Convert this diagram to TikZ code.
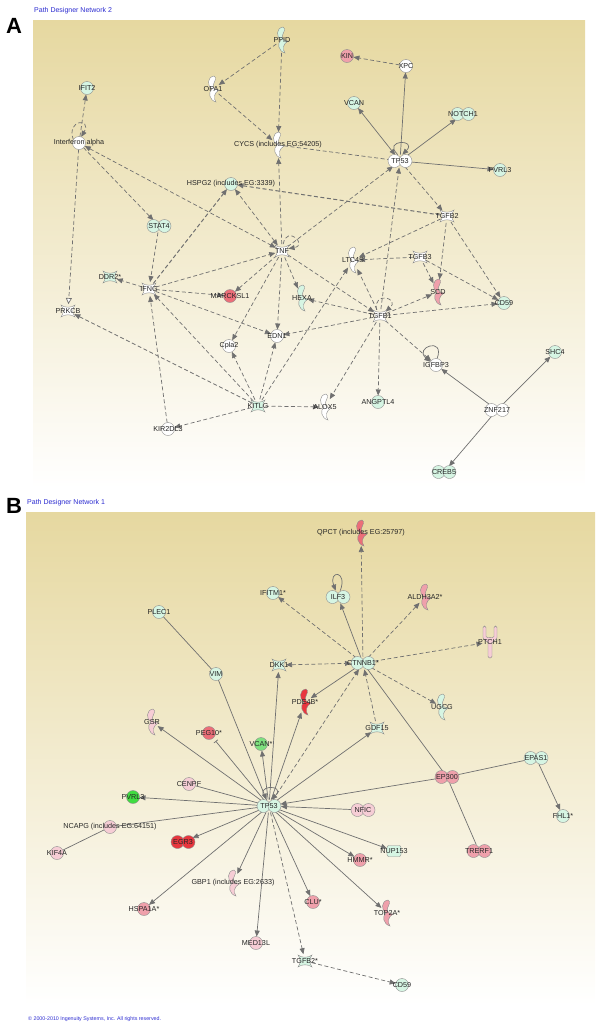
\documentclass[tikz,border=0pt]{standalone}
\usepackage{fontspec}
\setmainfont{Liberation Sans}
\usetikzlibrary{arrows.meta,shapes.geometric}

\definecolor{mint}{HTML}{D6F5E3}
\definecolor{pinkl}{HTML}{F6CDD5}
\definecolor{pinkm}{HTML}{EFA0AB}
\definecolor{redm}{HTML}{EC6E78}
\definecolor{redd}{HTML}{E8363E}
\definecolor{greenm}{HTML}{7EE07E}
\definecolor{greenb}{HTML}{40DC40}
\definecolor{edgec}{HTML}{707070}
\definecolor{tanc}{HTML}{E6D8A0}
\definecolor{titleblue}{HTML}{2B2BD0}

\pgfdeclarelayer{bg}
\pgfdeclarelayer{edges}
\pgfsetlayers{bg,edges,main}

\tikzset{
  glyph/.style={draw=black!45, line width=0.4pt},
  gene/.style={inner sep=0pt, outer sep=0pt, draw=none},
  lbl/.style={font=\fontsize{7.2}{8}\selectfont, inner sep=0pt, text=black!85},
  other box/.style={circle, minimum size=13pt},
  treg box/.style={ellipse, minimum width=24pt, minimum height=13pt},
  enzyme box/.style={ellipse, minimum width=12pt, minimum height=26pt},
  growth box/.style={circle, minimum size=14pt},
  ymem box/.style={ellipse, minimum width=15pt, minimum height=32pt},
  transp box/.style={rectangle, minimum width=14pt, minimum height=11pt},
  pics/other/.style={code={\draw[glyph, fill=#1] (0,0) circle[radius=6.5pt];}},
  pics/treg/.style={code={
    \draw[glyph, fill=#1] (-5.5,0) circle[radius=6.5pt];
    \draw[glyph, fill=#1] (5.5,0) circle[radius=6.5pt];}},
  pics/enzyme/.style={code={
    \draw[glyph, fill=#1] (1,-13) .. controls (-6,-12) and (-6,-3) .. (-1,0)
      .. controls (-5,3) and (-4,11) .. (3,13)
      .. controls (0,9) and (1,4) .. (6,1)
      .. controls (1,1) and (-1,-3) .. (1,-6)
      .. controls (2,-9) and (4,-11) .. (1,-13) -- cycle;}},
  pics/growth/.style={code={
    \draw[glyph, fill=#1] (-7,-6) .. controls (-3,-3) and (3,-3) .. (7,-6)
      .. controls (4,-2) and (4,2) .. (7,6)
      .. controls (3,3) and (-3,3) .. (-7,6)
      .. controls (-4,2) and (-4,-2) .. (-7,-6) -- cycle;}},
  pics/ymem/.style={code={
    \draw[glyph, fill=#1, rounded corners=1.5pt] (-7,-16) -- (-7,-6)
      .. controls (-7,-2) and (-2,-1) .. (-2,3) -- (-2,16) -- (2,16) -- (2,3)
      .. controls (2,-1) and (7,-2) .. (7,-6) -- (7,-16) -- (4,-16) -- (4,-7)
      .. controls (4,-4) and (-4,-4) .. (-4,-7) -- (-4,-16) -- cycle;}},
  pics/transp/.style={code={
    \draw[glyph, fill=#1, rounded corners=2pt] (-7,-5.5) rectangle (7,5.5);}},
  act/.style={draw=edgec, line width=0.7pt, ->},
  actd/.style={act, dash pattern=on 4pt off 2.5pt},
  rel/.style={draw=edgec, line width=0.7pt},
  reld/.style={rel, dash pattern=on 4pt off 2.5pt},
  inh/.style={rel, -{Bar[width=5pt]}, shorten >=4pt},
  >={Triangle[length=6pt,width=5pt]},
  panel/.style={font=\fontsize{22}{24}\selectfont\bfseries, inner sep=0pt},
  title/.style={font=\fontsize{7}{8}\selectfont, text=titleblue, inner sep=0pt, anchor=west}
}

% name, position, glyph, fill, text
\newcommand{\gene}[5]{%
  \pic at (#2) {#3=#4};
  \node[gene, #3 box, label={[lbl]center:{#5}}] (#1) at (#2) {};}

\begin{document}
\begin{tikzpicture}[x=1pt, y=-1pt]
\useasboundingbox (0,0) rectangle (602,1029);

% backgrounds
\begin{pgfonlayer}{bg}
\shade[top color=tanc, middle color=tanc!45!white, bottom color=white] (33,20) rectangle (585,488);
\shade[top color=tanc, middle color=tanc!45!white, bottom color=white] (26,512) rectangle (595,1005);
\end{pgfonlayer}

\node[panel] (panA) at (14,26) {A};
\node[title] (titA) at (34,11) {Path Designer Network 2};
\node[panel] (panB) at (14,506) {B};
\node[title] (titB) at (27,503) {Path Designer Network 1};
\node[title, font=\fontsize{5.3}{6}\selectfont] (copy) at (28,1019) {\textcopyright{} 2000-2010 Ingenuity Systems, Inc. All rights reserved.};

% network 2
\gene{ppid}{282,40}{enzyme}{mint}{PPID}
\gene{opa1}{213,89}{enzyme}{white}{OPA1}
\gene{ifit2}{87,88}{other}{mint}{IFIT2}
\gene{ifna}{79,143}{other}{white}{Interferon alpha}
\gene{cycs}{278,145}{enzyme}{white}{CYCS (includes EG:54205)}
\gene{hspg2}{231,184}{other}{mint}{HSPG2 (includes EG:3339)}
\gene{stat4}{159,226}{treg}{mint}{STAT4}
\gene{tnf}{282,251}{growth}{white}{TNF}
\gene{xpc}{406,66}{other}{white}{XPC}
\gene{kin}{347,56}{other}{pinkm}{KIN}
\gene{vcana}{354,103}{other}{mint}{VCAN}
\gene{notch1}{463,114}{treg}{mint}{NOTCH1}
\gene{tp53a}{400,161}{treg}{white}{TP53}
\gene{pvrl3a}{500,170}{other}{mint}{PVRL3}
\gene{tgfb2}{447,216}{growth}{white}{TGFB2}
\gene{ltc4s}{353,260}{enzyme}{white}{LTC4S}
\gene{tgfb3}{420,257}{growth}{white}{TGFB3}
\gene{scd}{438,292}{enzyme}{pinkm}{SCD}
\gene{cd59a}{504,303}{other}{mint}{CD59}
\gene{tgfb1}{380,316}{growth}{white}{TGFB1}
\gene{hexa}{302,298}{enzyme}{mint}{HEXA}
\gene{igfbp3}{436,365}{other}{white}{IGFBP3}
\gene{shc4}{555,352}{other}{mint}{SHC4}
\gene{angptl4}{378,402}{other}{mint}{ANGPTL4}
\gene{alox5}{325,407}{enzyme}{white}{ALOX5}
\gene{znf217}{497,410}{treg}{white}{ZNF217}
\gene{creb5}{444,472}{treg}{mint}{CREB5}
\gene{ddr2}{110,277}{growth}{mint}{DDR2*}
\gene{ifng}{149,289}{growth}{white}{IFNG}
\gene{marcksl1}{230,296}{other}{redm}{MARCKSL1}
\gene{prkcb}{68,311}{growth}{white}{PRKCB}
\gene{edn1}{277,336}{other}{white}{EDN1}
\gene{cpla2}{229,346}{other}{white}{Cpla2}
\gene{kitlg}{258,406}{growth}{mint}{KITLG}
\gene{kir2dl3}{168,429}{other}{white}{KIR2DL3}

% network 1
\gene{qpct}{361,533}{enzyme}{redm}{QPCT (includes EG:25797)}
\gene{ilf3}{338,597}{treg}{mint}{ILF3}
\gene{aldh}{425,597}{enzyme}{pinkm}{ALDH3A2*}
\gene{ptch1}{490,642}{ymem}{pinkl}{PTCH1}
\gene{ctnnb1}{363,663}{treg}{mint}{CTNNB1*}
\gene{ugcg}{442,707}{enzyme}{mint}{UGCG}
\gene{gdf15}{377,728}{growth}{mint}{GDF15}
\gene{pde4b}{305,702}{enzyme}{redd}{PDE4B*}
\gene{ifitm1}{273,593}{other}{mint}{IFITM1*}
\gene{plec1}{159,612}{other}{mint}{PLEC1}
\gene{vim}{216,674}{other}{mint}{VIM}
\gene{dkk1}{279,665}{growth}{mint}{DKK1}
\gene{gsr}{152,722}{enzyme}{pinkl}{GSR}
\gene{peg10}{209,733}{other}{redm}{PEG10*}
\gene{vcanb}{261,744}{other}{greenm}{VCAN*}
\gene{cenpf}{189,784}{other}{pinkl}{CENPF}
\gene{tp53b}{269,806}{treg}{mint}{TP53}
\gene{pvrl3b}{133,797}{other}{greenb}{PVRL3}
\gene{ncapg}{110,827}{other}{pinkl}{NCAPG (includes EG:64151)}
\gene{kif4a}{57,853}{other}{pinkl}{KIF4A}
\gene{egr3}{183,842}{treg}{redd}{EGR3}
\gene{gbp1}{233,883}{enzyme}{pinkl}{GBP1 (includes EG:2633)}
\gene{hspa1a}{144,909}{other}{pinkm}{HSPA1A*}
\gene{med13l}{256,943}{other}{pinkl}{MED13L}
\gene{tgfb2b}{305,961}{growth}{mint}{TGFB2*}
\gene{cd59b}{402,985}{other}{mint}{CD59}
\gene{clu}{313,902}{other}{pinkm}{CLU*}
\gene{top2a}{387,913}{enzyme}{pinkm}{TOP2A*}
\gene{hmmr}{360,860}{other}{pinkm}{HMMR*}
\gene{nup153}{394,851}{transp}{mint}{NUP153}
\gene{nfic}{363,810}{treg}{pinkl}{NFIC}
\gene{ep300}{447,777}{treg}{pinkm}{EP300}
\gene{epas1}{536,758}{treg}{mint}{EPAS1}
\gene{fhl1}{563,816}{other}{mint}{FHL1*}
\gene{trerf1}{479,851}{treg}{pinkm}{TRERF1}

\begin{pgfonlayer}{edges}
% network 2
\draw[actd] (ppid) -- (opa1);
\draw[actd] (ppid) -- (cycs);
\draw[actd] (opa1) -- (cycs);
\draw[actd] (ifna) -- (ifit2);
\draw[actd, -{Triangle[fill=white, length=6pt, width=6pt]}] (ifna) -- (prkcb);
\draw[actd] (ifna) -- (stat4);
\draw[actd, <->] (ifna) -- (tnf);
\draw[actd] (ifna.150) .. controls +(110:22pt) and +(60:22pt) .. (ifna.70);
\draw[actd] (stat4) -- (ifng);
\draw[actd, line width=1pt] (ifng) -- (hspg2);
\draw[actd, <->] (tnf) -- (hspg2);
\draw[actd, line width=1pt] (tgfb2) -- (hspg2);
\draw[reld] (cycs) -- (tp53a);
\draw[actd] (tnf) -- (cycs);
\draw[actd] (tnf) -- (tp53a);
\draw[actd] (tgfb1) -- (tp53a);
\draw[actd] (tp53a) -- (tgfb2);
\draw[act] (tp53a) -- (xpc);
\draw[act, <->] (tp53a) -- (vcana);
\draw[act] (tp53a) -- (notch1);
\draw[act] (tp53a) -- (pvrl3a);
\draw[act] (tp53a.110) .. controls +(135:22pt) and +(45:22pt) .. (tp53a.70);
\draw[actd] (xpc) -- (kin);
\foreach \t in {ltc4s,scd,cd59a} {\draw[actd] (tgfb2) -- (\t);}
\foreach \t in {ltc4s,scd,cd59a} {\draw[actd] (tgfb3) -- (\t);}
\foreach \t in {ltc4s,scd,cd59a,igfbp3,hexa,edn1,alox5,angptl4} {\draw[actd] (tgfb1) -- (\t);}
\draw[actd] (tgfb1.120) .. controls +(100:20pt) and +(40:20pt) .. (tgfb1.40);
\foreach \t in {tgfb1,hexa,edn1,cpla2,marcksl1} {\draw[actd] (tnf) -- (\t);}
\draw[actd] (tnf.80) .. controls +(80:20pt) and +(10:20pt) .. (tnf.20);
\foreach \t in {tnf,marcksl1,edn1,ddr2} {\draw[actd] (ifng) -- (\t);}
\foreach \t in {ifng,cpla2,edn1,ltc4s,prkcb,kir2dl3,alox5} {\draw[actd] (kitlg) -- (\t);}
\draw[actd] (kir2dl3) -- (ifng);
\foreach \t in {igfbp3,shc4,creb5} {\draw[act] (znf217) -- (\t);}
\draw[act] (igfbp3.80) .. controls +(70:24pt) and +(140:22pt) .. (igfbp3.150);

% network 1
\foreach \t in {qpct,aldh,ptch1,ugcg,ifitm1} {\draw[actd] (ctnnb1) -- (\t);}
\draw[act] (ctnnb1) -- (ilf3);
\draw[act] (ilf3.70) .. controls +(70:22pt) and +(110:22pt) .. (ilf3.110);
\draw[actd, <->] (dkk1) -- (ctnnb1);
\draw[actd] (gdf15) -- (ctnnb1);
\draw[act] (ctnnb1) -- (pde4b);
\draw[actd] (tp53b) -- (ctnnb1);
\draw[rel] (ctnnb1) -- (ep300);
\draw[rel] (ep300) -- (trerf1);
\draw[rel] (ep300) -- (epas1);
\draw[act] (epas1) -- (fhl1);
\draw[act] (ep300) -- (tp53b);
\draw[act] (nfic) -- (tp53b);
\draw[rel] (plec1) -- (vim);
\draw[act] (vim) -- (tp53b);
\draw[inh] (tp53b) -- (peg10);
\draw[rel] (cenpf) -- (tp53b);
\draw[rel] (tp53b) -- (ncapg);
\draw[rel] (ncapg) -- (kif4a);
\foreach \t in {dkk1,pde4b,gdf15,vcanb,gsr,pvrl3b,egr3,hspa1a,gbp1,med13l,clu,top2a,hmmr,nup153} {\draw[act] (tp53b) -- (\t);}
\draw[actd] (tp53b) -- (tgfb2b);
\draw[actd] (tgfb2b) -- (cd59b);
\draw[act] (tp53b.110) .. controls +(135:22pt) and +(45:22pt) .. (tp53b.70);
\end{pgfonlayer}

\end{tikzpicture}
\end{document}
